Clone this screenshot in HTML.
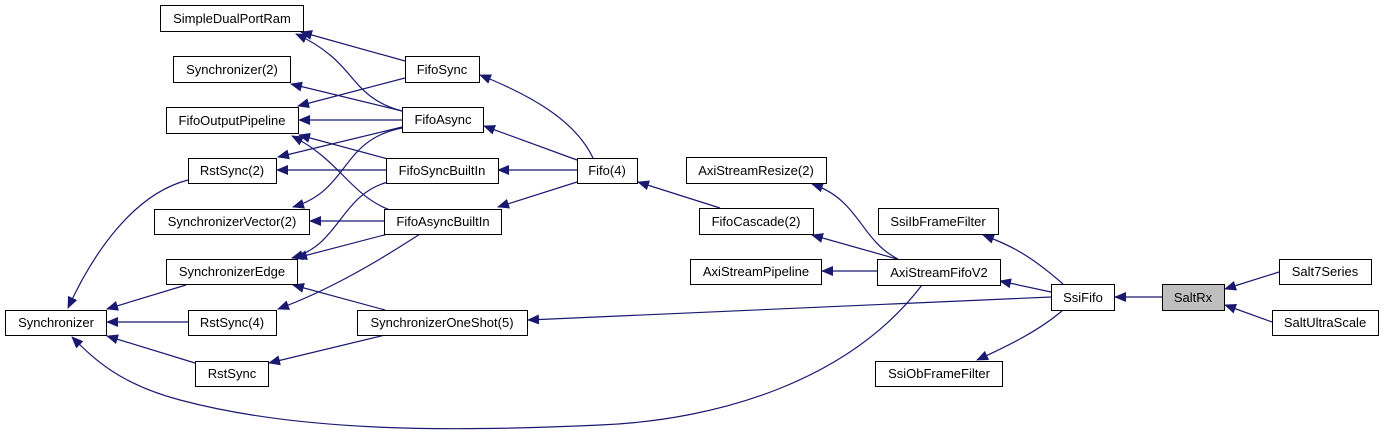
<!DOCTYPE html>
<html><head><meta charset="utf-8"><style>
html,body{margin:0;padding:0;background:#fff;width:1384px;height:435px;overflow:hidden}
text{font-family:"Liberation Sans",sans-serif;font-size:13px;fill:#000}
</style></head><body>
<svg width="1384" height="435" viewBox="0 0 1384 435" xmlns="http://www.w3.org/2000/svg">
<defs><marker id="a" markerWidth="12" markerHeight="10" refX="11" refY="5" orient="auto" markerUnits="userSpaceOnUse"><path d="M0,0 L12,5 L0,10 Z" fill="#191970"/></marker></defs>
<g fill="none" stroke="#191970" stroke-width="1.2" marker-end="url(#a)">
<path d="M405,61 L301,32"/>
<path d="M402,111 C360,100 355,75 330,55 C318,45 305,38 296,34"/>
<path d="M402,111 L291,84"/>
<path d="M405,78 L298,106"/>
<path d="M402,120 L299,120"/>
<path d="M388,159 L299,135"/>
<path d="M390,210 C350,195 340,160 292,136"/>
<path d="M402,127 L278,157"/>
<path d="M386,170 L277,170"/>
<path d="M402,128 C340,140 350,190 293,207"/>
<path d="M384,221 L310,221"/>
<path d="M388,182 C340,195 340,245 292,258"/>
<path d="M388,234 L296,258"/>
<path d="M420,234 C380,260 330,290 278,309"/>
<path d="M385,310 L293,285"/>
<path d="M385,335 L269,363"/>
<path d="M188,180 C130,195 90,260 68,308"/>
<path d="M186,285 L107,309"/>
<path d="M188,322 L107,322"/>
<path d="M195,363 L107,336"/>
<path d="M922,285 C850,380 720,420 600,425 C450,432 300,432 180,400 C120,384 95,360 72,337"/>
<path d="M593,158 C575,120 530,95 480,75"/>
<path d="M577,160 L484,126"/>
<path d="M577,170 L498,170"/>
<path d="M577,182 L498,207"/>
<path d="M720,208 L638,182"/>
<path d="M898,259 C860,240 860,200 812,184"/>
<path d="M897,259 L812,235"/>
<path d="M877,271 L822,271"/>
<path d="M1063,284 C1030,255 1010,245 983,235"/>
<path d="M1051,292 L1000,281"/>
<path d="M1051,297 L528,320"/>
<path d="M1063,310 C1040,330 1010,345 977,360"/>
<path d="M1162,297 L1115,297"/>
<path d="M1279,272 L1225,289"/>
<path d="M1272,322 L1225,305"/>
</g>
<g stroke="#000" stroke-width="1" fill="#fff">
<rect x="160.5" y="5.5" width="143" height="26"/>
<rect x="173.5" y="56.5" width="117" height="26"/>
<rect x="166.5" y="107.5" width="132" height="26"/>
<rect x="188.5" y="158.5" width="88" height="25"/>
<rect x="154.5" y="209.5" width="155" height="25"/>
<rect x="166.5" y="259.5" width="131" height="25"/>
<rect x="5.5" y="310.5" width="101" height="25"/>
<rect x="188.5" y="310.5" width="88" height="25"/>
<rect x="195.5" y="361.5" width="73" height="25"/>
<rect x="405.5" y="56.5" width="74" height="26"/>
<rect x="402.5" y="107.5" width="81" height="25"/>
<rect x="386.5" y="158.5" width="112" height="25"/>
<rect x="384.5" y="209.5" width="117" height="25"/>
<rect x="357.5" y="310.5" width="170" height="25"/>
<rect x="577.5" y="158.5" width="60" height="25"/>
<rect x="686.5" y="157.5" width="140" height="26"/>
<rect x="699.5" y="208.5" width="114" height="26"/>
<rect x="690.5" y="259.5" width="131" height="25"/>
<rect x="877.5" y="259.5" width="123" height="26"/>
<rect x="878.5" y="208.5" width="120" height="26"/>
<rect x="875.5" y="361.5" width="127" height="25"/>
<rect x="1051.5" y="284.5" width="63" height="26"/>
<rect x="1162.5" y="284.5" width="62" height="26" fill="#bfbfbf"/>
<rect x="1279.5" y="259.5" width="92" height="25"/>
<rect x="1272.5" y="310.5" width="106" height="25"/>
</g>
<g text-anchor="middle">
<text x="232" y="23">SimpleDualPortRam</text>
<text x="232" y="74">Synchronizer(2)</text>
<text x="232" y="125">FifoOutputPipeline</text>
<text x="232" y="175">RstSync(2)</text>
<text x="232" y="226">SynchronizerVector(2)</text>
<text x="232" y="276">SynchronizerEdge</text>
<text x="56" y="327">Synchronizer</text>
<text x="232" y="327">RstSync(4)</text>
<text x="232" y="378">RstSync</text>
<text x="442" y="74">FifoSync</text>
<text x="443" y="124">FifoAsync</text>
<text x="442" y="175">FifoSyncBuiltIn</text>
<text x="443" y="226">FifoAsyncBuiltIn</text>
<text x="442" y="327">SynchronizerOneShot(5)</text>
<text x="607" y="175">Fifo(4)</text>
<text x="756" y="175">AxiStreamResize(2)</text>
<text x="756" y="226">FifoCascade(2)</text>
<text x="756" y="276">AxiStreamPipeline</text>
<text x="939" y="277">AxiStreamFifoV2</text>
<text x="938" y="226">SsiIbFrameFilter</text>
<text x="939" y="378">SsiObFrameFilter</text>
<text x="1083" y="302">SsiFifo</text>
<text x="1193" y="302">SaltRx</text>
<text x="1325" y="276">Salt7Series</text>
<text x="1325" y="327">SaltUltraScale</text>
</g>
</svg>
</body></html>
